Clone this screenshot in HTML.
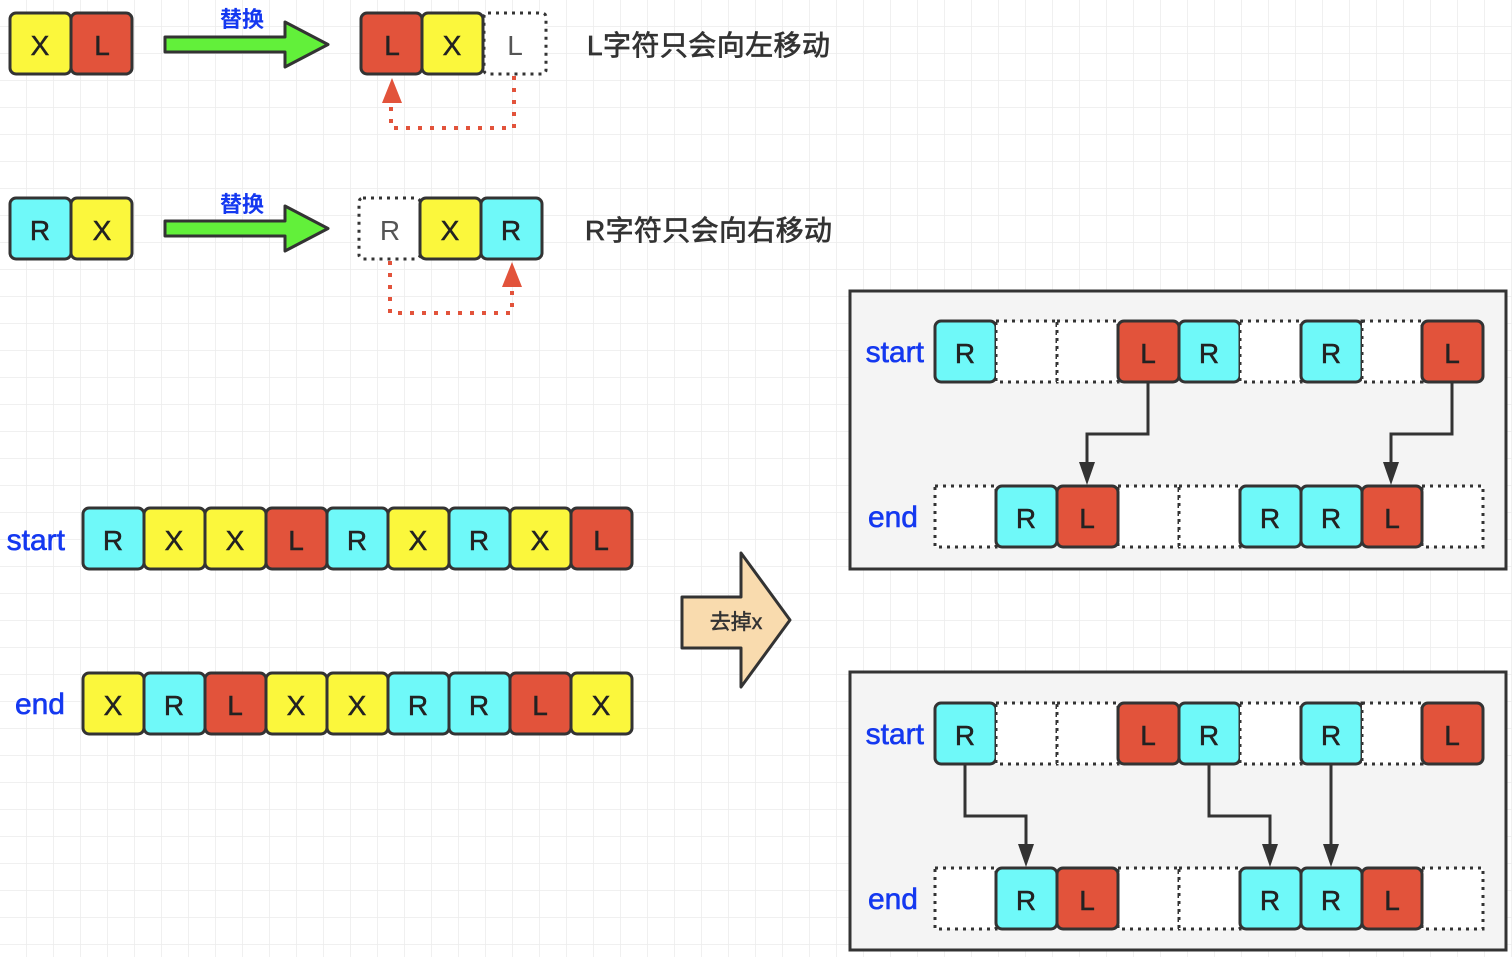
<!DOCTYPE html>
<html><head><meta charset="utf-8">
<style>
html,body{margin:0;padding:0;background:#fff;}
svg{display:block}
.c{stroke:#333;stroke-width:3;}
.y{fill:#fbf73c}.r{fill:#e2533b}.b{fill:#6ff9f9}.w{fill:#fff}
.d{fill:#fff;stroke:#333;stroke-width:3;stroke-dasharray:3 5}
.t{font-family:"Liberation Sans",sans-serif;font-size:28px;fill:#222;text-anchor:middle;stroke:#222;stroke-width:0.5}
.lt{font-family:"Liberation Sans",sans-serif;font-size:28px;fill:#555;text-anchor:middle}
.bl{font-family:"Liberation Sans",sans-serif;font-size:30px;fill:#1438f0;text-anchor:end;stroke:#1438f0;stroke-width:0.6}
.cn{font-family:"Liberation Sans","Noto Sans CJK SC",sans-serif;}
</style></head><body>
<svg width="1512" height="957" viewBox="0 0 1512 957" xmlns="http://www.w3.org/2000/svg">
<defs>
<pattern id="g" width="27" height="27" patternUnits="userSpaceOnUse">
<path d="M27 0V27M0 27H27" stroke="#ececec" stroke-width="1.5" fill="none"/>
</pattern>
</defs>
<rect width="1512" height="957" fill="url(#g)"/>

<!-- Row 1 -->
<rect class="c y" x="10" y="13" width="61" height="61" rx="6"/><text class="t" x="40" y="55">X</text>
<rect class="c r" x="71" y="13" width="61" height="61" rx="6"/><text class="t" x="102" y="55">L</text>
<text class="cn" x="242" y="27" font-size="22" fill="#1438f0" text-anchor="middle" font-weight="bold">替换</text>
<path d="M165 37H285V22L328 44.5L285 67V52H165Z" fill="#62f03a" stroke="#333" stroke-width="3" stroke-linejoin="round"/>
<rect class="d" x="484" y="13" width="62" height="61" rx="4"/><text class="lt" x="515" y="55">L</text>
<rect class="c r" x="361" y="13" width="61" height="61" rx="6"/><text class="t" x="392" y="55">L</text>
<rect class="c y" x="422" y="13" width="61" height="61" rx="6"/><text class="t" x="452" y="55">X</text>
<path d="M514 76V128H391V100" fill="none" stroke="#e2533b" stroke-width="4" stroke-dasharray="4 8"/>
<path d="M382 103L392 78L402 103Z" fill="#e2533b"/>
<text class="cn" x="587" y="55" font-size="28" fill="#333" stroke="#333" stroke-width="0.7" textLength="243">L字符只会向左移动</text>

<!-- Row 2 -->
<rect class="c b" x="10" y="198" width="61" height="61" rx="6"/><text class="t" x="40" y="240">R</text>
<rect class="c y" x="71" y="198" width="61" height="61" rx="6"/><text class="t" x="102" y="240">X</text>
<text class="cn" x="242" y="212" font-size="22" fill="#1438f0" text-anchor="middle" font-weight="bold">替换</text>
<path d="M165 221H285V206L328 228.5L285 251V236H165Z" fill="#62f03a" stroke="#333" stroke-width="3" stroke-linejoin="round"/>
<rect class="d" x="359" y="198" width="61" height="61" rx="4"/><text class="lt" x="390" y="240">R</text>
<rect class="c y" x="420" y="198" width="61" height="61" rx="6"/><text class="t" x="450" y="240">X</text>
<rect class="c b" x="481" y="198" width="61" height="61" rx="6"/><text class="t" x="511" y="240">R</text>
<path d="M390 261V313H512V285" fill="none" stroke="#e2533b" stroke-width="4" stroke-dasharray="4 8"/>
<path d="M502 287L512 262L522 287Z" fill="#e2533b"/>
<text class="cn" x="585" y="240" font-size="28" fill="#333" stroke="#333" stroke-width="0.7" textLength="247">R字符只会向右移动</text>

<!-- start / end rows -->
<text class="bl" x="65" y="550">start</text>
<rect class="c b" x="83" y="508" width="61" height="61" rx="6"/><text class="t" x="113" y="550">R</text>
<rect class="c y" x="144" y="508" width="61" height="61" rx="6"/><text class="t" x="174" y="550">X</text>
<rect class="c y" x="205" y="508" width="61" height="61" rx="6"/><text class="t" x="235" y="550">X</text>
<rect class="c r" x="266" y="508" width="61" height="61" rx="6"/><text class="t" x="296" y="550">L</text>
<rect class="c b" x="327" y="508" width="61" height="61" rx="6"/><text class="t" x="357" y="550">R</text>
<rect class="c y" x="388" y="508" width="61" height="61" rx="6"/><text class="t" x="418" y="550">X</text>
<rect class="c b" x="449" y="508" width="61" height="61" rx="6"/><text class="t" x="479" y="550">R</text>
<rect class="c y" x="510" y="508" width="61" height="61" rx="6"/><text class="t" x="540" y="550">X</text>
<rect class="c r" x="571" y="508" width="61" height="61" rx="6"/><text class="t" x="601" y="550">L</text>

<text class="bl" x="65" y="714">end</text>
<rect class="c y" x="83" y="673" width="61" height="61" rx="6"/><text class="t" x="113" y="715">X</text>
<rect class="c b" x="144" y="673" width="61" height="61" rx="6"/><text class="t" x="174" y="715">R</text>
<rect class="c r" x="205" y="673" width="61" height="61" rx="6"/><text class="t" x="235" y="715">L</text>
<rect class="c y" x="266" y="673" width="61" height="61" rx="6"/><text class="t" x="296" y="715">X</text>
<rect class="c y" x="327" y="673" width="61" height="61" rx="6"/><text class="t" x="357" y="715">X</text>
<rect class="c b" x="388" y="673" width="61" height="61" rx="6"/><text class="t" x="418" y="715">R</text>
<rect class="c b" x="449" y="673" width="61" height="61" rx="6"/><text class="t" x="479" y="715">R</text>
<rect class="c r" x="510" y="673" width="61" height="61" rx="6"/><text class="t" x="540" y="715">L</text>
<rect class="c y" x="571" y="673" width="61" height="61" rx="6"/><text class="t" x="601" y="715">X</text>

<!-- big arrow -->
<path d="M682 597H741V553L790 620L741 687V648H682Z" fill="#f9dbae" stroke="#333" stroke-width="3" stroke-linejoin="round"/>
<text class="cn" x="736" y="629" font-size="21" fill="#333" stroke="#333" stroke-width="0.5" text-anchor="middle">去掉x</text>

<!-- Panel 1 -->
<rect x="850" y="291" width="656" height="278" fill="#f4f4f4" stroke="#333" stroke-width="3"/>
<text class="bl" x="924" y="362">start</text>
<rect class="c b" x="935" y="321" width="61" height="61" rx="6"/><text class="t" x="965" y="363">R</text>
<rect class="d" x="996" y="321" width="61" height="61"/>
<rect class="d" x="1057" y="321" width="61" height="61"/>
<rect class="c r" x="1118" y="321" width="61" height="61" rx="6"/><text class="t" x="1148" y="363">L</text>
<rect class="c b" x="1179" y="321" width="61" height="61" rx="6"/><text class="t" x="1209" y="363">R</text>
<rect class="d" x="1240" y="321" width="61" height="61"/>
<rect class="c b" x="1301" y="321" width="61" height="61" rx="6"/><text class="t" x="1331" y="363">R</text>
<rect class="d" x="1362" y="321" width="60" height="61"/>
<rect class="c r" x="1422" y="321" width="61" height="61" rx="6"/><text class="t" x="1452" y="363">L</text>

<text class="bl" x="918" y="527">end</text>
<rect class="d" x="935" y="486" width="61" height="61"/>
<rect class="d" x="1118" y="486" width="61" height="61"/>
<rect class="d" x="1179" y="486" width="61" height="61"/>
<rect class="d" x="1422" y="486" width="61" height="61"/>
<rect class="c b" x="996" y="486" width="61" height="61" rx="6"/><text class="t" x="1026" y="528">R</text>
<rect class="c r" x="1057" y="486" width="61" height="61" rx="6"/><text class="t" x="1087" y="528">L</text>
<rect class="c b" x="1240" y="486" width="61" height="61" rx="6"/><text class="t" x="1270" y="528">R</text>
<rect class="c b" x="1301" y="486" width="61" height="61" rx="6"/><text class="t" x="1331" y="528">R</text>
<rect class="c r" x="1362" y="486" width="60" height="61" rx="6"/><text class="t" x="1392" y="528">L</text>
<path d="M1148 383V434H1087V464" fill="none" stroke="#333" stroke-width="3"/>
<path d="M1079 462L1087 485L1095 462Z" fill="#333"/>
<path d="M1452 383V434H1391V464" fill="none" stroke="#333" stroke-width="3"/>
<path d="M1383 462L1391 485L1399 462Z" fill="#333"/>

<!-- Panel 2 -->
<rect x="850" y="672" width="656" height="278" fill="#f4f4f4" stroke="#333" stroke-width="3"/>
<text class="bl" x="924" y="744">start</text>
<rect class="c b" x="935" y="703" width="61" height="61" rx="6"/><text class="t" x="965" y="745">R</text>
<rect class="d" x="996" y="703" width="61" height="61"/>
<rect class="d" x="1057" y="703" width="61" height="61"/>
<rect class="c r" x="1118" y="703" width="61" height="61" rx="6"/><text class="t" x="1148" y="745">L</text>
<rect class="c b" x="1179" y="703" width="61" height="61" rx="6"/><text class="t" x="1209" y="745">R</text>
<rect class="d" x="1240" y="703" width="61" height="61"/>
<rect class="c b" x="1301" y="703" width="61" height="61" rx="6"/><text class="t" x="1331" y="745">R</text>
<rect class="d" x="1362" y="703" width="60" height="61"/>
<rect class="c r" x="1422" y="703" width="61" height="61" rx="6"/><text class="t" x="1452" y="745">L</text>

<text class="bl" x="918" y="909">end</text>
<rect class="d" x="935" y="868" width="61" height="61"/>
<rect class="d" x="1118" y="868" width="61" height="61"/>
<rect class="d" x="1179" y="868" width="61" height="61"/>
<rect class="d" x="1422" y="868" width="61" height="61"/>
<rect class="c b" x="996" y="868" width="61" height="61" rx="6"/><text class="t" x="1026" y="910">R</text>
<rect class="c r" x="1057" y="868" width="61" height="61" rx="6"/><text class="t" x="1087" y="910">L</text>
<rect class="c b" x="1240" y="868" width="61" height="61" rx="6"/><text class="t" x="1270" y="910">R</text>
<rect class="c b" x="1301" y="868" width="61" height="61" rx="6"/><text class="t" x="1331" y="910">R</text>
<rect class="c r" x="1362" y="868" width="60" height="61" rx="6"/><text class="t" x="1392" y="910">L</text>
<path d="M965 765V816H1026V846" fill="none" stroke="#333" stroke-width="3"/>
<path d="M1018 844L1026 867L1034 844Z" fill="#333"/>
<path d="M1209 765V816H1270V846" fill="none" stroke="#333" stroke-width="3"/>
<path d="M1262 844L1270 867L1278 844Z" fill="#333"/>
<path d="M1331 765V846" fill="none" stroke="#333" stroke-width="3"/>
<path d="M1323 844L1331 867L1339 844Z" fill="#333"/>
</svg>
</body></html>
